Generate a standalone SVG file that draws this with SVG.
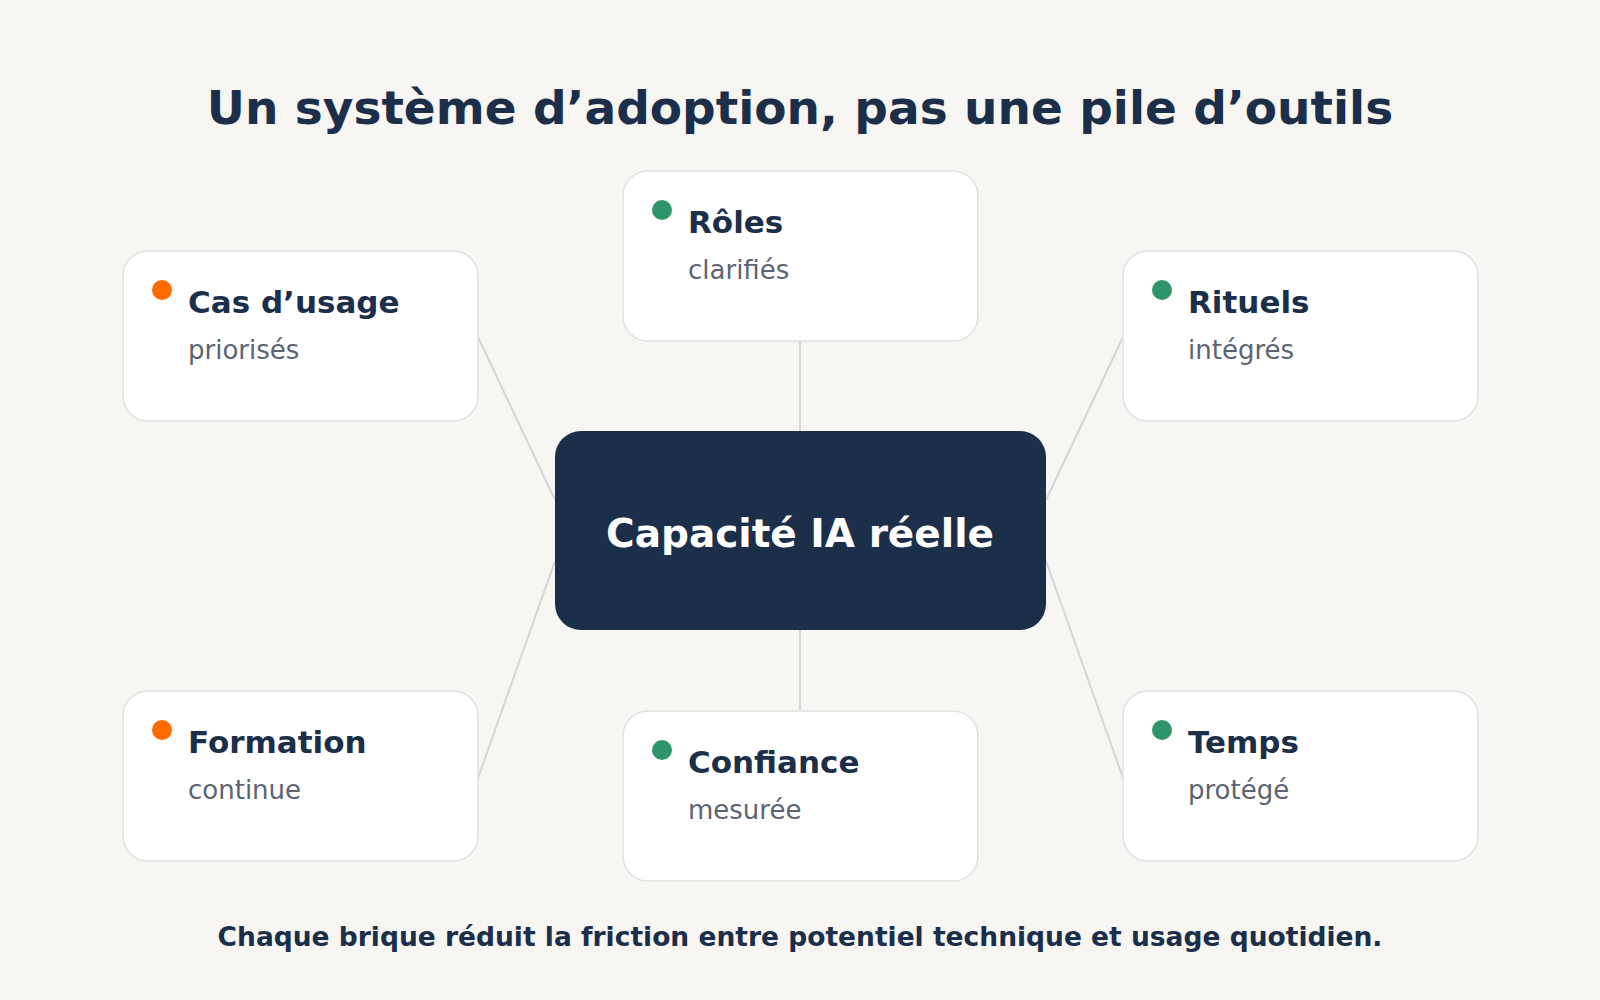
<svg xmlns="http://www.w3.org/2000/svg" width="1600" height="1000" viewBox="0 0 1600 1000">
<style>
.card{fill:#ffffff;stroke:#dfe1e4;stroke-width:1.5}
.t{font-family:"DejaVu Sans",sans-serif;font-weight:bold;fill:#1b2e4a}
.h{font-size:31px}
.s{font-family:"DejaVu Sans",sans-serif;font-size:26px;fill:#5b6473}
.g{fill:#2f9467}.o{fill:#ff6a00}
.c{stroke:#d3d6da;stroke-width:2;fill:none}
</style>
<rect width="1600" height="1000" fill="#f7f6f3"/>
<text class="t" x="800" y="124" font-size="47" text-anchor="middle">Un système d’adoption, pas une pile d’outils</text>
<g id="connectors">
<line class="c" x1="478" y1="337" x2="555" y2="500"/>
<line class="c" x1="800" y1="341" x2="800" y2="431"/>
<line class="c" x1="1123" y1="337" x2="1046" y2="500"/>
<line class="c" x1="478" y1="778" x2="555" y2="561"/>
<line class="c" x1="800" y1="630" x2="800" y2="711"/>
<line class="c" x1="1123" y1="778" x2="1046" y2="561"/>
</g>
<g id="center"><rect x="555" y="431" width="491" height="199" rx="26" fill="#1b2e4a"/>
<text class="t" x="800" y="547" font-size="39" fill="#ffffff" style="fill:#fff" text-anchor="middle">Capacité IA réelle</text></g>
<g id="roles"><rect class="card" x="623" y="171" width="355" height="170" rx="25"/><circle class="g" cx="662" cy="210" r="10"/><text class="t h" x="688" y="233">Rôles</text><text class="s" x="688" y="279">clarifiés</text></g>
<g id="cas"><rect class="card" x="123" y="251" width="355" height="170" rx="25"/><circle class="o" cx="162" cy="290" r="10"/><text class="t h" x="188" y="313">Cas d’usage</text><text class="s" x="188" y="359">priorisés</text></g>
<g id="rituels"><rect class="card" x="1123" y="251" width="355" height="170" rx="25"/><circle class="g" cx="1162" cy="290" r="10"/><text class="t h" x="1188" y="313">Rituels</text><text class="s" x="1188" y="359">intégrés</text></g>
<g id="formation"><rect class="card" x="123" y="691" width="355" height="170" rx="25"/><circle class="o" cx="162" cy="730" r="10"/><text class="t h" x="188" y="753">Formation</text><text class="s" x="188" y="799">continue</text></g>
<g id="confiance"><rect class="card" x="623" y="711" width="355" height="170" rx="25"/><circle class="g" cx="662" cy="750" r="10"/><text class="t h" x="688" y="773">Confiance</text><text class="s" x="688" y="819">mesurée</text></g>
<g id="temps"><rect class="card" x="1123" y="691" width="355" height="170" rx="25"/><circle class="g" cx="1162" cy="730" r="10"/><text class="t h" x="1188" y="753">Temps</text><text class="s" x="1188" y="799">protégé</text></g>
<text class="t" x="800" y="946" font-size="26.5" text-anchor="middle">Chaque brique réduit la friction entre potentiel technique et usage quotidien.</text>
</svg>
